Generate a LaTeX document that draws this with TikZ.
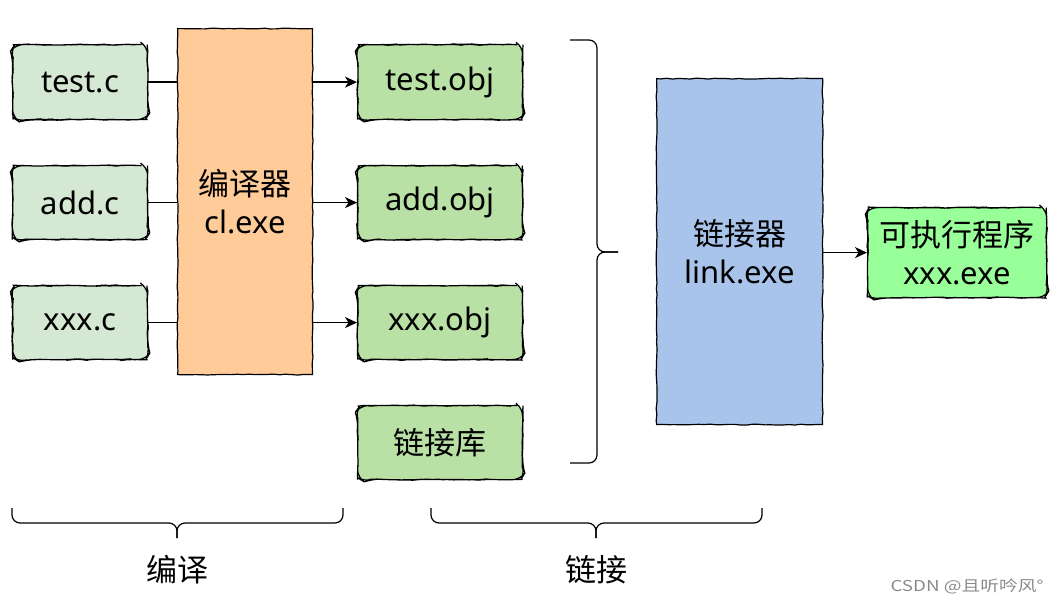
\documentclass[tikz,border=0pt]{standalone}
\usepackage{fontspec}
\setmainfont{Noto Sans}
\newfontfamily\cjk{Noto Sans CJK SC}
\usetikzlibrary{arrows.meta,decorations.pathmorphing}
\definecolor{srcgreen}{HTML}{D5E8D4}
\definecolor{objgreen}{HTML}{B9E0A5}
\definecolor{clorange}{HTML}{FFCC99}
\definecolor{linkblue}{HTML}{A9C4EB}
\definecolor{exegreen}{HTML}{99FF99}
\definecolor{wmgray}{HTML}{8A8A8A}
\begin{document}
\pgfmathsetseed{7}
\begin{tikzpicture}[x=1pt,y=-1pt,
  sketch/.style={decorate,decoration={random steps,segment length=6pt,amplitude=0.5pt}},
  boxtext/.style={font=\fontsize{31}{38}\selectfont, align=center, inner sep=0pt, anchor=north west},
  rbox/.style={boxtext, draw=black, line width=1.2pt, rounded corners=8pt, sketch},
  bigbox/.style={boxtext, draw=black, line width=1.2pt, sketch},
  conn/.style={line width=1.2pt, draw=black},
  arr/.style={conn, -{Stealth[length=12pt,width=11pt,inset=3.5pt]}},
  bracestyle/.style={line width=1.2pt, rounded corners=8pt},
  label/.style={font=\fontsize{31}{36}\selectfont\cjk}
]
\useasboundingbox (0,0) rectangle (1060,607);

% source files
\node[rbox, fill=srcgreen, minimum width=135pt, minimum height=75pt] (testc) at (12,44) {test.c};
\node[rbox, fill=srcgreen, minimum width=135pt, minimum height=74pt] (addc) at (12,165) {add.c};
\node[rbox, fill=srcgreen, minimum width=135pt, minimum height=74pt] (xxxc) at (12,285) {xxx.c};

% compiler
\node[bigbox, fill=clorange, minimum width=135pt, minimum height=346pt] (cl) at (177,28) {{\cjk 编译器}\\cl.exe};

% object files
\node[rbox, fill=objgreen, minimum width=165pt, minimum height=75pt] (testobj) at (357,44) {test.obj};
\node[rbox, fill=objgreen, minimum width=165pt, minimum height=74pt] (addobj) at (357,165) {add.obj};
\node[rbox, fill=objgreen, minimum width=165pt, minimum height=74pt] (xxxobj) at (357,285) {xxx.obj};
\node[rbox, fill=objgreen, minimum width=165pt, minimum height=74pt] (lib) at (357,405) {\cjk 链接库};

% linker
\node[bigbox, fill=linkblue, minimum width=166pt, minimum height=346pt] (link) at (656,78) {{\cjk 链接器}\\link.exe};

% executable
\node[rbox, fill=exegreen, minimum width=179pt, minimum height=90pt] (exe) at (867,207) {{\cjk 可执行程序}\\xxx.exe};

% connectors
\draw[conn] (testc.east) -- (testc.east -| cl.west);
\draw[conn] (addc.east) -- (addc.east -| cl.west);
\draw[conn] (xxxc.east) -- (xxxc.east -| cl.west);
\draw[arr] (cl.east |- testobj.west) -- (testobj.west);
\draw[arr] (cl.east |- addobj.west) -- (addobj.west);
\draw[arr] (cl.east |- xxxobj.west) -- (xxxobj.west);
\draw[arr] (link.east |- exe.west) -- (exe.west);

% right brace (linking inputs)
\draw[bracestyle] (570,40) -- (597,40) -- (597,252) -- (618,252);
\draw[bracestyle] (618,252) -- (597,252) -- (597,463) -- (570,463);

% bottom braces
\draw[bracestyle] (12,508) -- (12,523) -- (177,523) -- (177,538);
\draw[bracestyle] (343,508) -- (343,523) -- (177,523) -- (177,538);
\draw[bracestyle] (431,508) -- (431,523) -- (596,523) -- (596,538);
\draw[bracestyle] (762,508) -- (762,523) -- (596,523) -- (596,538);

\node[label] (lblcompile) at (177,570) {编译};
\node[label] (lbllink) at (596,570) {链接};

% watermark
\node[text=wmgray, font=\fontsize{15}{18}\selectfont\cjk, anchor=east] (wm) at (1047,586) {\scalebox{1.25}[1]{CSDN @且听吟风°}};
\end{tikzpicture}
\end{document}
